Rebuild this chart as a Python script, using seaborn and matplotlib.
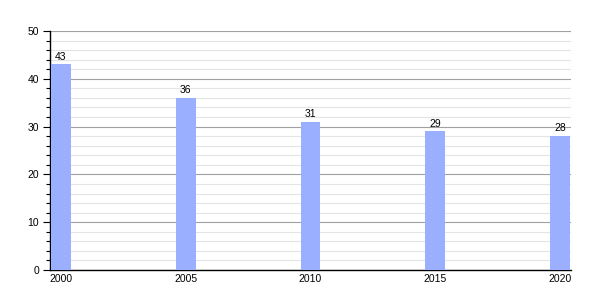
import matplotlib
matplotlib.use("Agg")
import matplotlib.pyplot as plt
import seaborn as sns
import pandas as pd
from matplotlib.ticker import MultipleLocator

years = [2000, 2005, 2010, 2015, 2020]
values = [43, 36, 31, 29, 28]
tick_labels = ["2000", "2005", "2010", "2015", "2020"]

sns.set_style("white")
plt.rcParams['font.family'] = ['Liberation Sans', 'DejaVu Sans']
plt.rcParams['text.color'] = 'black'
plt.rcParams['xtick.color'] = 'black'
plt.rcParams['ytick.color'] = 'black'

df = pd.DataFrame({"year": years, "value": values})

fig = plt.figure(figsize=(6, 3), dpi=100)
ax = fig.add_axes([50/600, 1-270/300, 521/600, 239/300])

sns.barplot(data=df, x="year", y="value", native_scale=True, width=0.16,
            color="#9aafff", saturation=1, ax=ax, zorder=3, edgecolor="none")

ax.set_xlim(1999.56, 2020.44)
ax.set_ylim(0, 50)
ax.set_xticks(years)
ax.set_xticklabels(tick_labels)
ax.yaxis.set_major_locator(MultipleLocator(10))
ax.yaxis.set_minor_locator(MultipleLocator(2))
ax.grid(axis='y', which='major', color='#a0a0a0', linewidth=0.8, zorder=0)
ax.grid(axis='y', which='minor', color='#e4e4e4', linewidth=0.8, zorder=0)
ax.set_axisbelow(True)

for s in ['top', 'right']:
    ax.spines[s].set_visible(False)
for s in ['left', 'bottom']:
    ax.spines[s].set_color('black')
    ax.spines[s].set_linewidth(1.0)

ax.tick_params(axis='y', which='major', direction='out', length=5, width=0.8,
               labelsize=7.5, left=True, pad=3, color='black', labelcolor='black')
ax.tick_params(axis='y', which='minor', direction='out', length=3, width=0.8,
               left=True, color='black')
ax.tick_params(axis='x', which='both', length=0, labelsize=7.5, pad=3,
               labelcolor='black')

ax.set_xlabel("")
ax.set_ylabel("")

for x, v in zip(years, values):
    ax.text(x, v + 0.6, str(v), ha='center', va='bottom', fontsize=7.5,
            color='black', zorder=4)

fig.savefig("out.png", dpi=100)
